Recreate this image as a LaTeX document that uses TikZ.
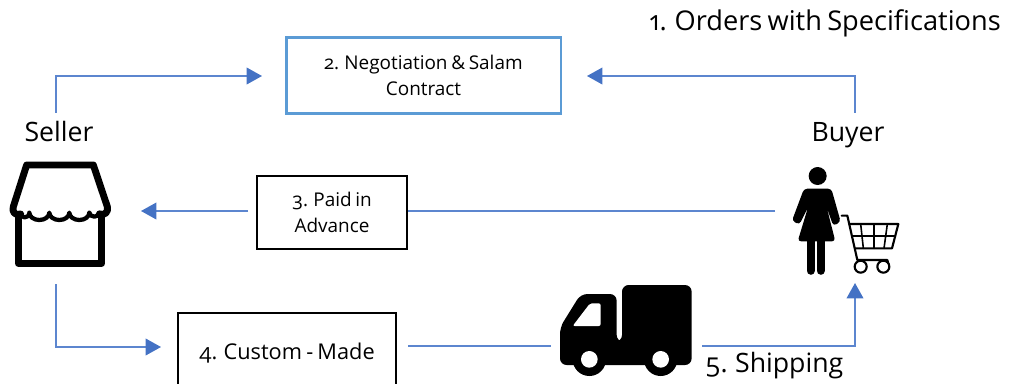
\documentclass[tikz,border=0pt]{standalone}
\usepackage{fontspec}
\setmainfont{Open Sans}[Numbers=OldStyle,WordSpace=0.75]
\usetikzlibrary{arrows.meta}
\definecolor{flow}{HTML}{4472C4}
\definecolor{flowline}{HTML}{5C86CF}
\definecolor{boxblue}{HTML}{5B9BD5}
\tikzset{
  x=0.75pt,y=-0.75pt,
  flowarrow/.style={draw=flowline,line width=1.15pt,-{Triangle[length=11.5pt,width=12.5pt,color=flow]}},
  flowplain/.style={draw=flowline,line width=1.15pt},
  stepbox/.style={draw=black,line width=1.5pt,align=center,inner sep=0pt,font=\fontsize{14.2pt}{19.5pt}\selectfont},
  bluebox/.style={stepbox,draw=boxblue,line width=2.2pt},
  biglabel/.style={inner sep=0pt,font=\fontsize{20pt}{22pt}\selectfont},
  iconbox/.style={inner sep=0pt},
  iconline/.style={line width=#1,line cap=round,line join=round},
}
\begin{document}
\begin{tikzpicture}
\useasboundingbox (0,0) rectangle (1013,383);
\begin{scope}
\clip (0,0) rectangle (1013,383);

% boxes
\node[bluebox,minimum width=206.2pt,minimum height=57.2pt] (negot) at (423.5,75.5) {2. Negotiation \& Salam\\Contract};
\node[stepbox,minimum width=112.5pt,minimum height=55pt] (paid) at (332,212.5) {3. Paid in\\Advance};
\node[stepbox,minimum width=164pt,minimum height=60pt] (custom) at (287,353) {};
\node[anchor=base,inner sep=0pt,font=\fontsize{16.3pt}{18pt}\selectfont] (customtext) at (287,359) {4. Custom - Made};

% labels
\node[biglabel,anchor=base east,font=\fontsize{20.4pt}{22pt}\selectfont] (orders) at (1001,30) {1. Orders with Specifications};
\node[biglabel,anchor=base] (seller) at (59,141) {Seller};
\node[biglabel,anchor=base] (buyer) at (848,141) {Buyer};
\node[biglabel,anchor=base west] (shipping) at (705,372) {5. Shipping};

% icon places
\node[iconbox,minimum width=78pt,minimum height=78pt] (store) at (60,214) {};
\node[iconbox,minimum width=78pt,minimum height=84pt] (shopper) at (846,220) {};
\node[iconbox,minimum width=101pt,minimum height=68pt] (truck) at (625,330) {};

% store icon
\begin{scope}[shift={(0,110)},x=0.25pt,y=-0.25pt]
  \draw[iconline=5.2pt] (55,318) -- (55,460) -- (305,460) -- (305,318);
  \draw[iconline=5.2pt] (62,312) .. controls (45,318) and (35,305) .. (40,290) -- (80,165) -- (280,165) -- (322,290) .. controls (326,305) and (315,318) .. (298,312);
  \draw[iconline=3.2pt]
    (60,310) arc[start angle=180,end angle=0,x radius=14,y radius=12]
    (88,308) arc[start angle=180,end angle=0,x radius=30,y radius=22]
    arc[start angle=180,end angle=0,x radius=30,y radius=22]
    arc[start angle=180,end angle=0,x radius=30,y radius=22]
    (268,308) arc[start angle=180,end angle=0,x radius=15,y radius=12];
\end{scope}

% shopper icon
\begin{scope}[shift={(770,150)},x=0.25pt,y=-0.25pt]
  \fill (143,78) circle[radius=27];
  \fill[rounded corners=2.5pt] (102,116) -- (184,116) -- (212,215) -- (190,228) -- (170,172) -- (196,274) -- (83,274) -- (114,172) -- (88,224) -- (66,212) -- cycle;
  \draw[iconline=6.2pt] (122,270) -- (122,362);
  \draw[iconline=6.2pt] (152,270) -- (152,362);
  \draw[iconline=1.6pt] (215,197) -- (232,197) -- (262,330) -- (352,330) -- (356,345);
  \draw[iconline=1.6pt] (240,222) -- (385,222) -- (366,295) -- (256,295);
  \draw[iconline=1.2pt] (246,258) -- (376,258);
  \draw[iconline=1.2pt] (272,222) -- (280,295);
  \draw[iconline=1.2pt] (312,222) -- (312,295);
  \draw[iconline=1.2pt] (352,222) -- (342,295);
  \draw[line width=1.6pt,fill=white] (272,350) circle[radius=18];
  \draw[line width=1.6pt,fill=white] (340,350) circle[radius=18];
\end{scope}

% truck icon
\begin{scope}[shift={(540,270)},x=0.25pt,y=-0.25pt]
  \fill[rounded corners=5pt] (60,172) -- (122,72) -- (230,72) -- (230,215) -- (246,215) -- (246,45) -- (455,45) -- (455,285) -- (60,285) -- cycle;
  \fill (148,268) circle[radius=50];
  \fill (362,268) circle[radius=50];
  \fill[white] (148,268) circle[radius=25];
  \fill[white] (362,268) circle[radius=25];
  \fill[white,rounded corners=1.5pt] (98,168) -- (150,100) -- (182,100) -- (182,168) -- cycle;
\end{scope}

% connectors
\coordinate (sellerup) at (56,112.5);
\coordinate (buyerup) at (855,112.5);
\coordinate (sellertop) at (56,76);
\coordinate (buyertop) at (855,76);
\coordinate (negotleft) at (262,76);
\coordinate (negotright) at (587,76);
\draw[flowarrow] (sellerup) -- (sellertop) -- (negotleft);
\draw[flowarrow] (buyerup) -- (buyertop) -- (negotright);

\coordinate (buyerleft) at (775,211);
\coordinate (paidout) at (248,211);
\coordinate (storeright) at (141,211);
\draw[flowplain] (buyerleft) -- (paid.east |- buyerleft);
\draw[flowarrow] (paidout) -- (storeright);

\coordinate (storebottom) at (56,284);
\coordinate (storecorner) at (56,347);
\coordinate (customin) at (161,347);
\draw[flowarrow] (storebottom) -- (storecorner) -- (customin);

\coordinate (customout) at (408,346);
\coordinate (truckin) at (551,346);
\draw[flowplain] (customout) -- (truckin);

\coordinate (truckout) at (702,346);
\coordinate (shipcorner) at (855,346);
\coordinate (buyerbottom) at (855,283);
\draw[flowarrow] (truckout) -- (shipcorner) -- (buyerbottom);
\end{scope}
\end{tikzpicture}
\end{document}
